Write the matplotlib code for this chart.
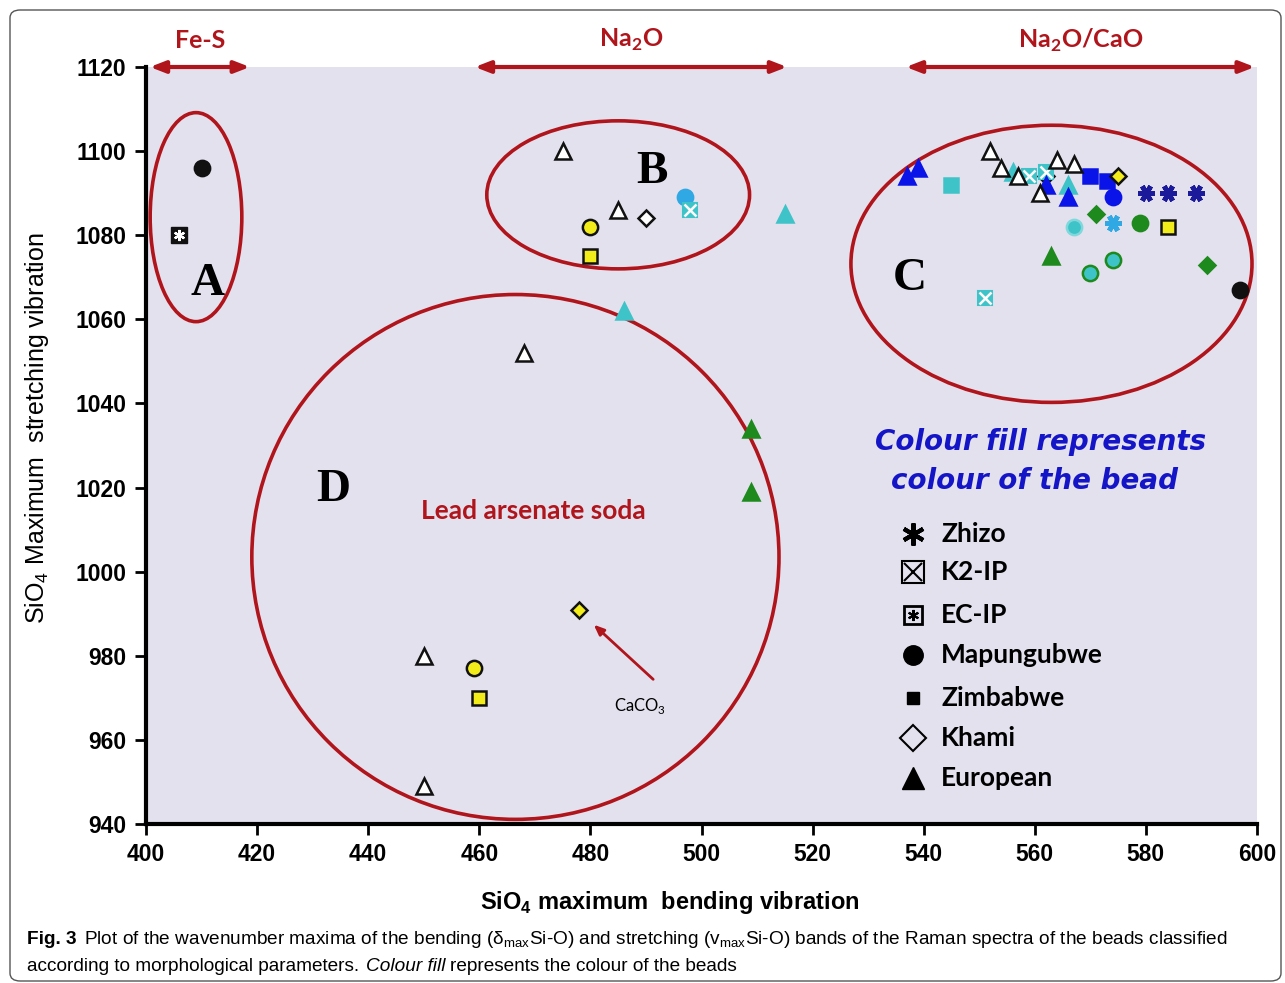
import matplotlib.pyplot as plt
from matplotlib.patches import Ellipse, FancyBboxPatch

# bead colours
BLACK = "#111111"
WHITE = "#FFFFFF"
YELLOW = "#F2EC1A"
CYAN = "#3EC3C8"
SKY = "#2FA8E4"
BLUE = "#0A14E8"
NAVY = "#1A1A9A"
GREEN = "#1E8A1E"
RED = "#B0151C"
BG = "#E4E1EE"

# ---- data: bending (x), stretching (y), fill colour per group ----
zhizo_x = [580, 584, 589, 574]
zhizo_y = [1090, 1090, 1090, 1083]
zhizo_c = [NAVY, NAVY, NAVY, SKY]

k2_x = [498, 551, 559, 562]
k2_y = [1086, 1065, 1094, 1095]
k2_c = [CYAN, CYAN, CYAN, CYAN]

ec_x = [406]
ec_y = [1080]
ec_c = [BLACK]

mapu_x = [410, 480, 497, 459, 574, 567, 579, 574, 570, 597]
mapu_y = [1096, 1082, 1089, 977, 1089, 1082, 1083, 1074, 1071, 1067]
mapu_c = [BLACK, YELLOW, SKY, YELLOW, BLUE, CYAN, GREEN, CYAN, CYAN, BLACK]
mapu_e = [BLACK, BLACK, SKY, BLACK, BLUE, "#7FD8DC", GREEN, GREEN, GREEN, BLACK]

zim_x = [480, 460, 545, 570, 573, 584]
zim_y = [1075, 970, 1092, 1094, 1093, 1082]
zim_c = [YELLOW, YELLOW, CYAN, BLUE, BLUE, YELLOW]

khami_x = [490, 478, 571, 591, 562, 575]
khami_y = [1084, 991, 1085, 1073, 1094, 1094]
khami_c = [WHITE, YELLOW, GREEN, GREEN, YELLOW, YELLOW]

euro_x = [515, 486, 509, 509, 537, 539, 556, 566, 562, 566, 563,
          475, 485, 468, 450, 450, 552, 554, 557, 561, 564, 567]
euro_y = [1085, 1062, 1034, 1019, 1094, 1096, 1095, 1092, 1092, 1089, 1075,
          1100, 1086, 1052, 980, 949, 1100, 1096, 1094, 1090, 1098, 1097]
euro_c = [CYAN, CYAN, GREEN, GREEN, BLUE, BLUE, CYAN, CYAN, BLUE, BLUE, GREEN,
          WHITE, WHITE, WHITE, WHITE, WHITE, WHITE, WHITE, WHITE, WHITE, WHITE, WHITE]

# ellipses: centre x, centre y, width, height
ell_cx = [409, 485, 563, 466.5]
ell_cy = [1084.3, 1089.6, 1073.2, 1003.5]
ell_w = [16.5, 47.3, 72.2, 94.9]
ell_h = [49.7, 35.2, 65.9, 124.8]
ell_labels = ["A", "B", "C", "D"]
lab_x = [411, 491, 537.5, 433.7]
lab_y = [1068.5, 1095, 1069.5, 1019.5]

# composition ranges on top
range_lo = [400.7, 459.2, 536.8]
range_hi = [418.7, 515.4, 599.6]
range_text = ["Fe-S", "Na$_\\mathregular{2}$O", "Na$_\\mathregular{2}$O/CaO"]

legend_labels = ["Zhizo", "K2-IP", "EC-IP", "Mapungubwe", "Zimbabwe", "Khami", "European"]


def edge(c):
    return BLACK if c in (WHITE, YELLOW) else c


fig = plt.figure(figsize=(12.85, 9.83), dpi=100)
ax = fig.add_axes([146 / 1285, 1 - 824 / 983, 1111 / 1285, 757 / 983])
ax.set_facecolor(BG)

# frame around the whole figure
fig.patches.append(FancyBboxPatch((10 / 1285, 2 / 983), 1271 / 1285, 971 / 983,
                                  boxstyle="round,pad=0,rounding_size=0.008",
                                  transform=fig.transFigure, fill=False,
                                  ec="#555555", lw=1.0))

for cx, cy, w, h in zip(ell_cx, ell_cy, ell_w, ell_h):
    ax.add_patch(Ellipse((cx, cy), w, h, fill=False, ec=RED, lw=2.6, zorder=2))
for t, lx, ly in zip(ell_labels, lab_x, lab_y):
    ax.text(lx, ly, t, family="Liberation Serif", weight="bold", fontsize=34,
            ha="center", va="center", zorder=5)

ms = 10
for x, y, c, e in zip(mapu_x, mapu_y, mapu_c, mapu_e):
    ax.plot(x, y, "o", ms=ms + 1, mfc=c, mec=e, mew=1.8, zorder=4)
for x, y, c in zip(zim_x, zim_y, zim_c):
    ax.plot(x, y, "s", ms=ms, mfc=c, mec=edge(c), mew=1.8, zorder=4)
for x, y, c in zip(khami_x, khami_y, khami_c):
    ax.plot(x, y, "D", ms=ms - 2, mfc=c, mec=edge(c), mew=1.8, zorder=4)
for x, y, c in zip(k2_x, k2_y, k2_c):
    ax.plot(x, y, "s", ms=ms, mfc=c, mec=c, mew=1.5, zorder=4)
    ax.plot(x, y, "x", ms=ms - 2, mec=WHITE, mew=1.8, zorder=4)
for x, y, c in zip(euro_x, euro_y, euro_c):
    ax.plot(x, y, "^", ms=ms + 1, mfc=c, mec=edge(c), mew=1.8, zorder=4)
for x, y, c in zip(ec_x, ec_y, ec_c):
    ax.plot(x, y, "s", ms=ms + 1, mfc=c, mec=c, zorder=4)
    ax.plot(x, y, marker=(6, 2, 0), ms=ms - 2, mec=WHITE, mew=1.6, zorder=4)
for x, y, c in zip(zhizo_x, zhizo_y, zhizo_c):
    ax.plot(x, y, marker=(6, 2, 90), ms=ms + 2, mec=c, mew=3.5, zorder=4)

# composition arrows
for lo, hi, t in zip(range_lo, range_hi, range_text):
    ax.annotate("", xy=(lo, 1120), xytext=(hi, 1120), annotation_clip=False,
                arrowprops=dict(arrowstyle="<|-|>,head_length=0.9,head_width=0.35",
                                color=RED, lw=3, shrinkA=0, shrinkB=0))
    ax.text((lo + hi) / 2, 1126.4, t, family="Lato", weight="bold", fontsize=18,
            color=RED, ha="center", va="center", clip_on=False)

ax.text(469.7, 1014.4, "Lead arsenate soda", family="Lato", weight="bold",
        fontsize=19, color=RED, ha="center", va="center")

# CaCO3 annotation
ax.annotate("", xy=(480.6, 987.4), xytext=(491.3, 974.4),
            arrowprops=dict(arrowstyle="-|>,head_length=0.6,head_width=0.25",
                            color=RED, lw=2, shrinkA=0, shrinkB=0))
ax.text(489, 968, "CaCO$_\\mathregular{3}$", family="Lato", fontsize=12,
        ha="center", va="center")

ax.text(0.805, (824 - 442) / 757, "Colour fill represents", transform=ax.transAxes,
        family="DejaVu Sans", style="italic", weight="bold", fontsize=20,
        color="#1515C8", ha="center", va="center")
ax.text(0.800, (824 - 481) / 757, "colour of the bead", transform=ax.transAxes,
        family="DejaVu Sans", style="italic", weight="bold", fontsize=20,
        color="#1515C8", ha="center", va="center")

# hand-made legend
leg_y = [(824 - py) / 757 for py in (534, 572, 615, 655, 698, 738, 778)]
mx = (913 - 146) / 1111
tx = (941 - 146) / 1111
kw = dict(transform=ax.transAxes, clip_on=False, zorder=5)
ax.plot(mx, leg_y[0], marker=(6, 2, 0), ms=16, mec="k", mew=3, **kw)
ax.plot(mx, leg_y[1], "s", ms=16, mfc="none", mec="k", mew=1.5, **kw)
ax.plot(mx, leg_y[1], "x", ms=13, mec="k", mew=1.5, **kw)
ax.plot(mx, leg_y[2], "s", ms=13, mfc="none", mec="k", mew=2, **kw)
ax.plot(mx, leg_y[2], marker=(6, 2, 0), ms=8, mec="k", mew=1.5, **kw)
ax.plot(mx, leg_y[3], "o", ms=14, mfc="k", mec="k", **kw)
ax.plot(mx, leg_y[4], "s", ms=9, mfc="k", mec="k", **kw)
ax.plot(mx, leg_y[5], "D", ms=13, mfc="none", mec="k", mew=1.5, **kw)
ax.plot(mx, leg_y[6], "^", ms=16, mfc="k", mec="k", **kw)
for lab, ly in zip(legend_labels, leg_y):
    ax.text(tx, ly, lab, transform=ax.transAxes, family="Lato", weight="bold",
            fontsize=19, ha="left", va="center")

# axes
ax.set_xlim(400, 600)
ax.set_ylim(940, 1120)
ax.set_xticks(range(400, 601, 20))
ax.set_yticks(range(940, 1121, 20))
for s in ("top", "right"):
    ax.spines[s].set_visible(False)
for s in ("left", "bottom"):
    ax.spines[s].set_linewidth(3)
ax.tick_params(length=8, width=2, labelsize=16.5, pad=6)
for lab in ax.get_xticklabels() + ax.get_yticklabels():
    lab.set_family("Liberation Sans")
    lab.set_weight("bold")

sans = "Liberation Sans"
fig.text(670 / 1285, 1 - 902 / 983, "SiO$_\\mathregular{4}$ maximum  bending vibration",
         family=sans, weight="bold", fontsize=17, ha="center", va="center")
fig.text(37 / 1285, 1 - 428 / 983, "SiO$_\\mathregular{4}$ Maximum  stretching vibration",
         family=sans, fontsize=18, rotation=90, ha="center", va="center")

# caption
fig.canvas.draw()
r = fig.canvas.get_renderer()
cap_kw = dict(family=sans, fontsize=13.7, va="baseline")
y1 = 1 - 944 / 983
y2 = 1 - 971 / 983
t0 = fig.text(27 / 1285, y1, "Fig. 3", weight="bold", **cap_kw)
x = t0.get_window_extent(r).x1 + 8
fig.text(x / 1285, y1, "Plot of the wavenumber maxima of the bending "
         "(δ$_\\mathregular{max}$Si-O) and stretching (v$_\\mathregular{max}$Si-O) bands "
         "of the Raman spectra of the beads classified", **cap_kw)
t1 = fig.text(27 / 1285, y2, "according to morphological parameters. ", **cap_kw)
x = t1.get_window_extent(r).x1 + 2
t2 = fig.text(x / 1285, y2, "Colour fill", style="italic", **cap_kw)
x = t2.get_window_extent(r).x1 + 4
fig.text(x / 1285, y2, "represents the colour of the beads", **cap_kw)

fig.savefig("out.png", dpi=100)
